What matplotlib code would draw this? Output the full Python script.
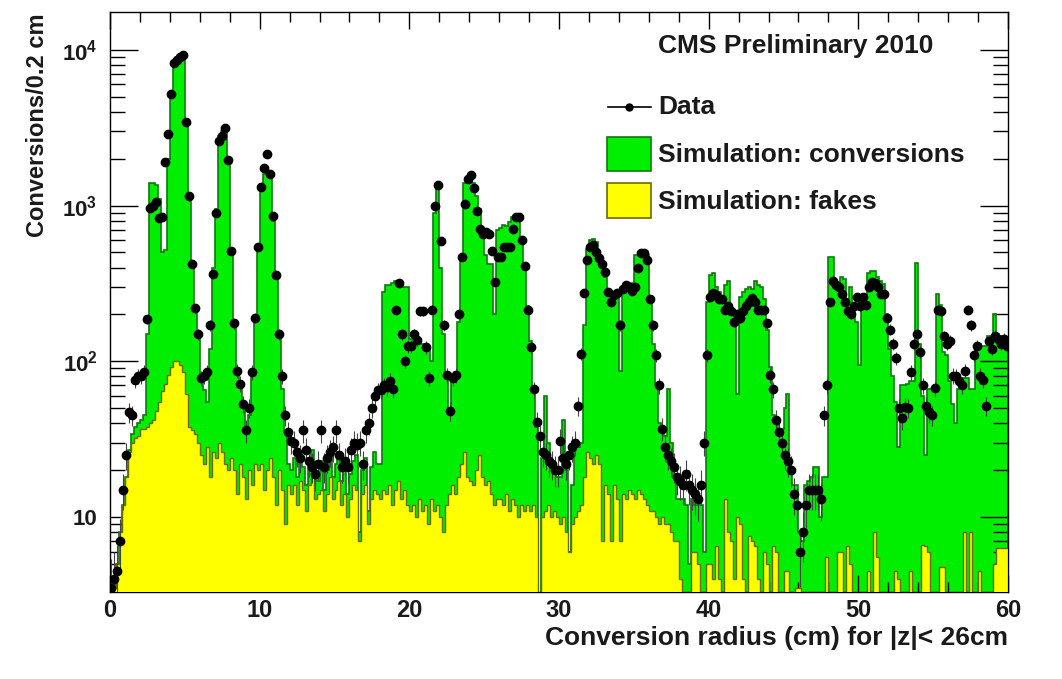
import numpy as np
import matplotlib
matplotlib.use('Agg')
import matplotlib.pyplot as plt
from matplotlib.patches import Rectangle
from matplotlib.lines import Line2D
from matplotlib.ticker import MultipleLocator, FixedLocator, FixedFormatter, NullFormatter

plt.rcParams['font.family'] = ['Liberation Sans', 'DejaVu Sans']
plt.rcParams['mathtext.fontset'] = 'custom'
plt.rcParams['mathtext.rm'] = 'Liberation Sans:bold'
plt.rcParams['mathtext.bf'] = 'Liberation Sans:bold'
plt.rcParams['mathtext.it'] = 'Liberation Sans:bold'

# histogram binning: 0.2 cm bins from 0 to 60 cm
r_min, r_max, n_bins = 0.0, 60.0, 300

# Simulation: conversions (total, stacked), one row = 2 cm
sim_conv = [
    2, 3.5, 5, 8, 12, 18, 27, 34, 38, 40,
    42, 45, 150, 1400, 1400, 1350, 1100, 500, 520, 2000,
    5200, 8200, 9000, 9400, 9400, 3400, 1150, 420, 220, 150,
    75, 65, 55, 120, 400, 950, 2800, 3000, 3200, 2000,
    500, 180, 90, 70, 52, 38, 45, 80, 180, 550,
    1300, 1600, 1650, 1500, 800, 350, 145, 66, 35, 22,
    20, 24, 18, 26, 21, 16, 22, 27, 19, 17,
    23, 15, 20, 25, 18, 22, 26, 17, 21, 14,
    19, 23, 25, 8, 20, 24, 11, 21, 26, 22,
    22, 280, 310, 310, 320, 330, 330, 320, 300, 300,
    140, 140, 135, 140, 130, 130, 120, 100, 900, 1300,
    400, 150, 80, 50, 75, 80, 180, 450, 1400, 1500,
    1500, 1400, 1150, 950, 700, 480, 420, 420, 200, 700,
    720, 750, 740, 780, 850, 870, 850, 600, 400, 225,
    135, 66, 38, 0, 24, 60, 30, 21, 20, 18,
    18, 42, 20, 6, 16, 28, 28, 30, 170, 525,
    600, 610, 580, 450, 400, 350, 275, 275, 280, 270,
    87, 300, 310, 320, 320, 480, 480, 490, 500, 480,
    240, 130, 70, 40, 35, 33, 66, 30, 18, 13,
    13, 13, 12, 5, 13, 12, 12, 12, 6, 240,
    360, 370, 300, 280, 250, 310, 330, 200, 200, 62,
    260, 280, 290, 300, 290, 330, 310, 300, 250, 160,
    92, 45, 40, 37, 37, 50, 62, 21, 16, 16,
    8, 7, 16, 17, 18, 21, 21, 10, 18, 18,
    470, 470, 320, 310, 350, 340, 250, 300, 220, 180,
    95, 250, 250, 370, 380, 380, 350, 330, 315, 200,
    120, 80, 55, 28, 70, 70, 72, 75, 75, 430,
    130, 60, 25, 66, 66, 66, 270, 230, 115, 110,
    75, 53, 40, 66, 66, 78, 78, 66, 66, 130,
    130, 125, 125, 145, 145, 200, 150, 145, 140, 135,
]

# Simulation: fakes
sim_fakes = [
    2, 3.5, 5, 8, 12, 18, 26, 30, 32, 33,
    37, 37, 38, 40, 42, 48, 55, 64, 72, 82,
    92, 100, 100, 95, 85, 62, 38, 36, 34, 30,
    25, 22, 28, 18, 26, 24, 30, 26, 22, 20,
    24, 20, 14, 22, 18, 13, 20, 16, 22, 20,
    22, 15, 20, 24, 18, 12, 20, 15, 9, 16,
    14, 16, 12, 17, 15, 11, 16, 18, 13, 14,
    15, 11, 14, 18, 13, 15, 17, 12, 14, 10,
    13, 16, 15, 7, 14, 16, 9, 13, 15, 14,
    13, 15, 14, 16, 12, 15, 17, 13, 15, 12,
    11, 12, 10, 13, 11, 12, 9, 13, 11, 12,
    10, 8, 12, 14, 16, 14, 18, 22, 26, 18,
    17, 16, 20, 25, 18, 16, 17, 14, 12, 13,
    13, 12, 14, 11, 13, 12, 10, 12, 11, 12,
    11, 12, 10, 0, 10, 11, 12, 10, 11, 10,
    9, 10, 8, 6, 9, 10, 11, 12, 18, 26,
    24, 22, 25, 22, 7, 16, 14, 7, 16, 13,
    7, 14, 13, 15, 14, 13, 15, 14, 13, 12,
    11, 11, 10, 9, 10, 9, 9, 8, 7, 7,
    4, 0, 0, 0, 6, 6, 5, 0, 0, 5,
    5, 4, 6.5, 4, 3, 13, 8, 7, 4, 10,
    9, 4, 3, 7.5, 7, 6.5, 4, 3, 6, 5,
    0, 6.5, 6, 3, 0, 4.5, 4.5, 0, 0, 3.5,
    3.5, 0, 0, 0, 0, 0, 0, 0, 0, 5.5,
    0, 0, 0, 6, 6, 0, 6.5, 5, 0, 0,
    0, 0, 0, 4.5, 0, 8, 5.5, 0, 0, 0,
    0, 0, 4.5, 4, 0, 0, 0, 4.5, 0, 0,
    0, 6.6, 6.5, 6, 0, 0, 0, 4.8, 4.8, 0,
    0, 0, 0, 0, 0, 8, 0, 8, 0, 0,
    4.5, 0, 0, 0, 0, 5, 6.3, 6.3, 6.3, 6.3,
]

# Data
data_counts = [
    3.5, 4, 4.5, 7, 15, 25, 47, 45, 76, 80,
    80, 85, 186, 970, 1000, 1050, 830, 840, 1900, 2900,
    5200, 8200, 8600, 9000, 9300, 3450, 1150, 420, 220, 150,
    78, 80, 85, 170, 365, 900, 2600, 2800, 3150, 1960,
    510, 175, 87, 72, 53, 36, 50, 85, 190, 540,
    1320, 1750, 2140, 1600, 860, 360, 150, 80, 45, 35,
    31, 30, 26, 24, 36, 27, 23, 21, 19, 22,
    36, 21, 24, 26, 28, 36, 25, 21, 23, 21,
    27, 30, 29, 30, 22, 36, 40, 50, 60, 65,
    65, 70, 68, 75, 66, 215, 320, 150, 100, 125,
    125, 150, 138, 210, 210, 123, 78, 215, 1000, 1360,
    590, 170, 82, 48, 78, 82, 200, 470, 1030, 1480,
    1580, 1300, 920, 710, 660, 680, 660, 510, 325, 470,
    470, 540, 540, 540, 710, 850, 850, 600, 410, 215,
    123, 66, 41, 33, 26, 25, 23, 22, 20, 20,
    31, 24, 22, 25, 28, 30, 52, 112, 275, 445,
    540, 560, 500, 460, 420, 375, 280, 240, 267, 275,
    170, 290, 310, 300, 282, 300, 400, 495, 495, 450,
    250, 170, 110, 70, 37, 28, 25, 23, 21, 18,
    17, 16, 19, 16, 15, 14, 13, 16, 30, 110,
    260, 275, 265, 250, 250, 215, 225, 210, 180, 200,
    190, 210, 225, 240, 255, 240, 215, 215, 215, 175,
    82, 66, 42, 35, 30, 25, 23, 20, 14, 12,
    6, 8, 12, 15, 15, 15, 15, 13, 45, 70,
    240, 330, 310, 300, 270, 240, 210, 200, 225, 260,
    225, 260, 230, 300, 325, 320, 300, 270, 270, 190,
    160, 130, 105, 50, 43, 51, 50, 85, 130, 150,
    115, 70, 52, 47, 45, 67, 215, 210, 145, 130,
    135, 81, 80, 75, 70, 87, 215, 170, 110, 125,
    81, 76, 52, 135, 120, 145, 140, 130, 140, 125,
]

y_ticks = [10, 100, 1000, 10000]
y_tick_labels = ['10', r'$10^{2}$', r'$10^{3}$', r'$10^{4}$']
x_ticks = [0, 10, 20, 30, 40, 50, 60]

W, H = 1062, 679
fig = plt.figure(figsize=(W / 100, H / 100), dpi=100)
ax = fig.add_axes([110 / W, 1 - 592 / H, (1008 - 110) / W, (592 - 12) / H])

edges = np.linspace(r_min, r_max, n_bins + 1)
centers = 0.5 * (edges[:-1] + edges[1:])
conv = np.clip(np.array(sim_conv, float), 0.5, None)
fakes = np.clip(np.array(sim_fakes, float), 0.5, None)
dat = np.array(data_counts, float)

green = '#00ee00'
green_edge = '#0a7a0a'
yellow = '#ffff00'
yellow_edge = '#6a6a00'

ax.stairs(conv, edges, baseline=0.5, fill=True, color=green, lw=0, zorder=1)
ax.stairs(conv, edges, baseline=0.5, fill=False, color=green_edge, lw=1.2, zorder=2)
ax.stairs(fakes, edges, baseline=0.5, fill=True, color=yellow, lw=0, zorder=3)
ax.stairs(fakes, edges, baseline=0.5, fill=False, color=yellow_edge, lw=1.0, zorder=4)

ax.errorbar(centers, dat, yerr=np.sqrt(dat), fmt='o', color='black', ms=6,
            elinewidth=0.8, ecolor='#444444', capsize=0, zorder=5)

ax.set_yscale('log')
ax.set_xlim(r_min, r_max)
ax.set_ylim(3.3, 17500)

ax.xaxis.set_major_locator(FixedLocator(x_ticks))
ax.xaxis.set_minor_locator(MultipleLocator(2))
ax.yaxis.set_major_locator(FixedLocator(y_ticks))
ax.yaxis.set_major_formatter(FixedFormatter(y_tick_labels))
minor_y = [m * 10 ** k for k in range(0, 5) for m in range(2, 10)]
ax.yaxis.set_minor_locator(FixedLocator(minor_y))
ax.yaxis.set_minor_formatter(NullFormatter())

ax.tick_params(which='both', direction='in', top=True, right=True, width=1.0)
ax.tick_params(axis='y', which='major', length=20, labelsize=16, pad=9)
ax.tick_params(axis='y', which='minor', length=11)
ax.tick_params(axis='x', which='major', length=12, labelsize=17, pad=5)
ax.tick_params(axis='x', which='minor', length=7)
for lab in ax.get_xticklabels() + ax.get_yticklabels():
    lab.set_fontweight('bold')
    lab.set_color('#1a1a1a')
for sp in ax.spines.values():
    sp.set_linewidth(1.0)


def fpos(x, y):
    return x / W, 1 - y / H


fig.text(*fpos(38, 13), 'Conversions/0.2 cm', rotation=90, ha='center', va='top',
         fontsize=17, fontweight='bold', color='#1a1a1a')
fig.text(*fpos(1008, 638), 'Conversion radius (cm) for |z|< 26cm', ha='right', va='center',
         fontsize=19, fontweight='bold', color='#1a1a1a')

# legend and label block
txt = dict(ha='left', va='center', fontsize=19, fontweight='bold', color='#1a1a1a')
fig.text(*fpos(658, 46), 'CMS Preliminary 2010', **txt)
fig.add_artist(Line2D([608 / W, 651 / W], [1 - 107 / H] * 2, color='black', lw=1.2,
                      transform=fig.transFigure))
fig.add_artist(Line2D([629 / W], [1 - 107 / H], marker='o', color='black', ms=5,
                      transform=fig.transFigure))
fig.text(*fpos(658, 107), 'Data', **txt)
fig.add_artist(Rectangle(fpos(607, 171), 44 / W, 34 / H, facecolor=green, edgecolor=green_edge,
                         lw=1.2, transform=fig.transFigure))
fig.text(*fpos(658, 155), 'Simulation: conversions', **txt)
fig.add_artist(Rectangle(fpos(607, 218), 44 / W, 35 / H, facecolor=yellow, edgecolor=yellow_edge,
                         lw=1.2, transform=fig.transFigure))
fig.text(*fpos(658, 202), 'Simulation: fakes', **txt)

fig.savefig('out.png', dpi=100)
